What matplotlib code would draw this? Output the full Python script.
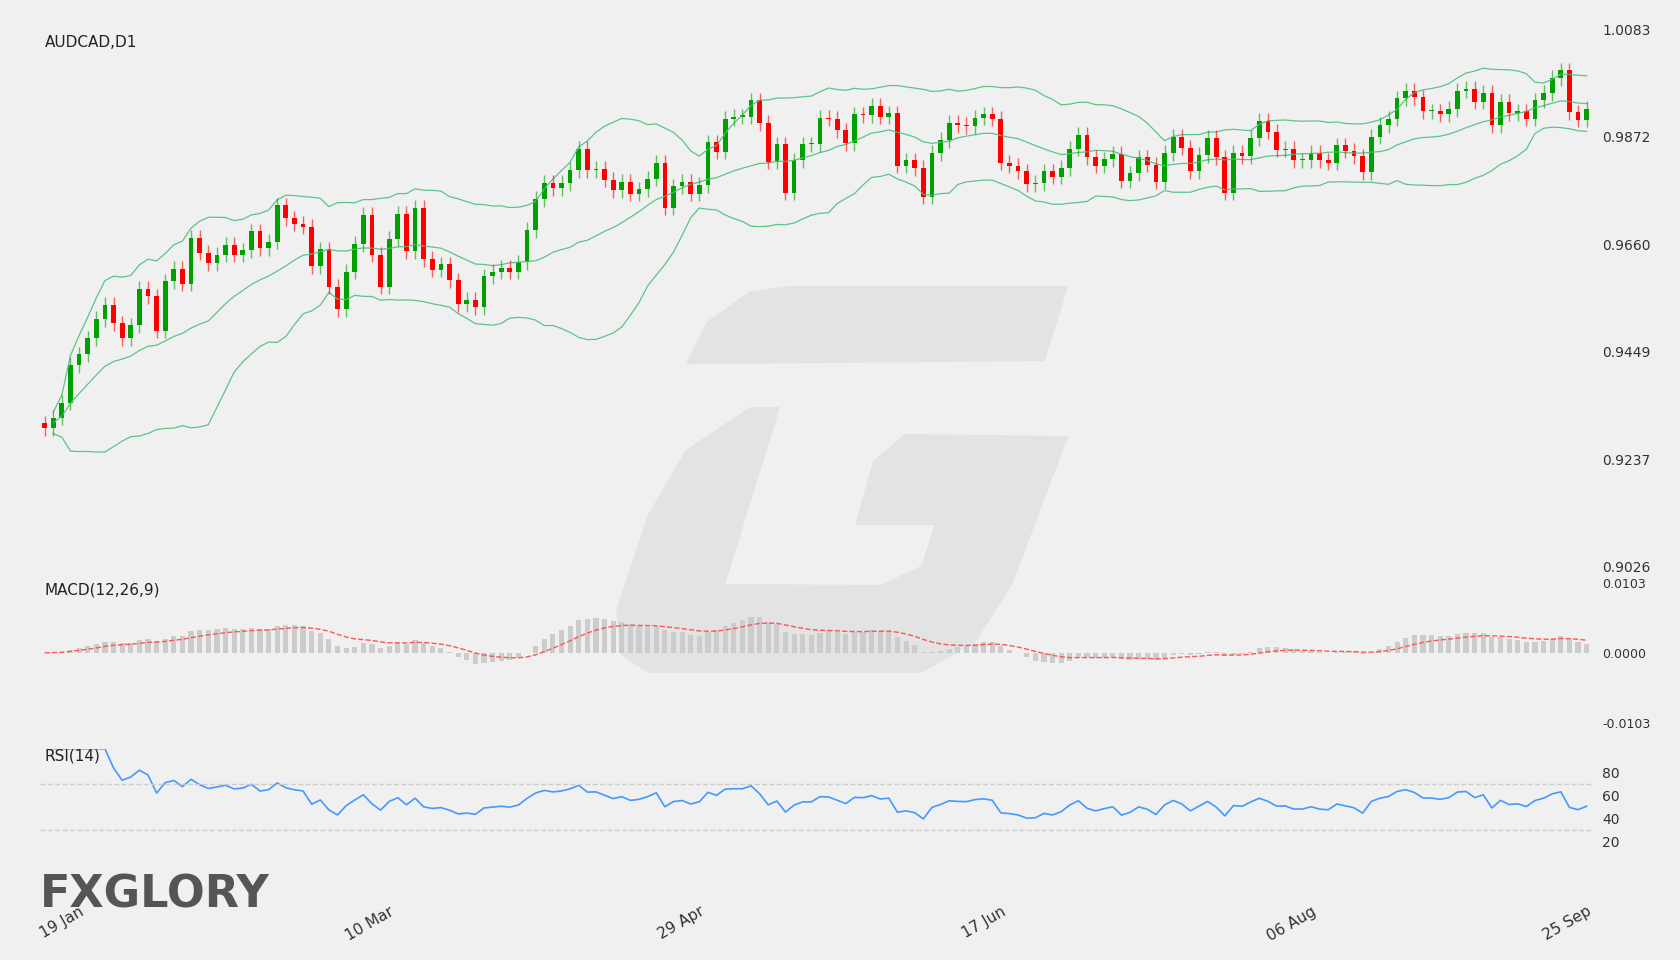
import matplotlib
matplotlib.use("Agg")
import matplotlib.pyplot as plt
from matplotlib.patches import Polygon
import numpy as np
import pandas as pd

close_px = [400,
            390, 376, 341, 331, 316, 298, 285, 302, 316, 304, 270, 277, 309, 263, 251, 265, 222, 236,
            246, 238, 229, 238, 234, 216, 232, 226, 192, 204, 209, 212, 249, 233, 268, 289, 254, 228,
            201, 238, 268, 223, 200, 235, 194, 242, 252, 247, 262, 284, 280, 287, 258, 254, 250, 254,
            245, 215,
            186, 171, 176, 171, 159, 139, 159, 158, 168, 178, 170, 181, 177, 167, 152, 194, 174, 170,
            181, 173, 133, 142, 111, 109, 109, 94, 115, 151, 135, 180, 150, 135, 135, 110, 111, 122,
            134, 107, 108, 99, 109, 106, 155, 150, 157, 184, 143, 131, 115, 117, 118, 110, 107, 111,
            152, 155, 160, 172, 171, 160, 165, 157, 139, 126, 147, 155, 149, 144, 169, 162, 147, 154,
            170, 143, 128, 138, 160, 145, 129, 147, 180, 143, 146, 129, 113, 123, 140, 139, 150, 150,
            143, 150, 152, 136, 141, 146, 161, 128, 117, 111, 92, 85, 91, 104, 104, 107, 102, 85, 83,
            95, 87,
            117, 95, 106, 104, 111, 94, 87, 73, 66, 105, 112, 102]
date_labels = ["19 Jan", "10 Mar", "29 Apr", "17 Jun", "06 Aug", "25 Sep"]
date_idx = [4, 40, 76, 111, 147, 179]
price_ticks = [0.9026, 0.9237, 0.9449, 0.9660, 0.9872, 1.0083]

close = 1.0083 - (np.array(close_px) - 28) / 501 * 0.1057
opn = np.r_[close[0] + 0.001, close[:-1]]
n = len(close)
x = np.arange(n)
s = pd.Series(close)

mid = s.rolling(20, min_periods=2).mean()
sd = s.rolling(20, min_periods=2).std(ddof=0)
up, lo = mid + 2 * sd, mid - 2 * sd
macd = s.ewm(span=12).mean() - s.ewm(span=26).mean()
signal = macd.ewm(span=9).mean()
d = s.diff()
gain = d.clip(lower=0).ewm(alpha=1/14).mean()
loss = (-d.clip(upper=0)).ewm(alpha=1/14).mean()
rsi = 100 - 100 / (1 + gain / loss)

bg = "#f0f0f0"
fig = plt.figure(figsize=(16.8, 9.6), dpi=100, facecolor=bg)

# faint watermark logo behind the panels
def fpoly(pts):
    return Polygon([(px / 1568, 1 - py / 896) for px, py in pts], closed=True,
                   transform=fig.transFigure, facecolor="#e3e3e3", edgecolor="none", zorder=-5)
fig.patches.append(fpoly([(640, 340), (660, 300), (700, 272), (735, 267), (997, 267), (975, 337)]))
fig.patches.append(fpoly([(728, 380), (700, 380), (640, 420), (605, 480), (575, 570), (580, 612),
                          (605, 628), (860, 628), (910, 600), (945, 545), (997, 407), (845, 405),
                          (815, 430), (798, 490), (872, 490), (860, 528), (822, 546), (677, 545)]))

L, W = 0.024, 0.923
ax = fig.add_axes([L, 0.410, W, 0.559], facecolor="none")
ax2 = fig.add_axes([L, 0.247, W, 0.146], facecolor="none", sharex=ax)
ax3 = fig.add_axes([L, 0.099, W, 0.121], facecolor="none", sharex=ax)

band = "#5cc488"
ax.plot(x, up, color=band, lw=0.9)
ax.plot(x, mid, color=band, lw=0.9)
ax.plot(x, lo, color=band, lw=0.9)
for i in range(n):
    c = "#00a000" if close[i] >= opn[i] else "#ff0000"
    hi = max(close[i], opn[i]) + 0.0015
    lw_ = min(close[i], opn[i]) - 0.0015
    ax.vlines(i, lw_, hi, color=c, lw=1, alpha=0.6)
    ax.bar(i, abs(close[i] - opn[i]) or 0.0003, bottom=min(close[i], opn[i]), width=0.55, color=c)
ax.set_ylim(0.9026, 1.0083)
ax.set_yticks(price_ticks)
ax.set_yticklabels([f"{t:.4f}" for t in price_ticks])
ax.text(0.003, 0.99, "AUDCAD,D1", transform=ax.transAxes, fontsize=11, va="top", color="#222")

ax2.bar(x, macd, width=0.6, color="#cccccc")
ax2.plot(x, signal, color="#ff5555", lw=1, ls="--")
ax2.set_ylim(-0.0103, 0.0103)
ax2.set_yticks([-0.0103, 0, 0.0103])
ax2.set_yticklabels(["-0.0103", "0.0000", "0.0103"])
ax2.text(0.003, 1.0, "MACD(12,26,9)", transform=ax2.transAxes, fontsize=11, va="top", color="#222")

ax3.plot(x, rsi, color="#4499ff", lw=1.2)
for lv in (30, 70):
    ax3.axhline(lv, color="#cccccc", lw=1, ls="--")
ax3.set_ylim(0, 100)
ax3.set_yticks([20, 40, 60, 80])
ax3.text(0.003, 1.0, "RSI(14)", transform=ax3.transAxes, fontsize=11, va="top", color="#222")

for a in (ax, ax2, ax3):
    for sp in a.spines.values():
        sp.set_visible(False)
    a.yaxis.tick_right()
    a.tick_params(axis="y", length=0, labelsize=10, labelcolor="#333", pad=8)
    a.tick_params(axis="x", length=0)
ax2.tick_params(axis="y", labelsize=9)
plt.setp(ax.get_xticklabels(), visible=False)
plt.setp(ax2.get_xticklabels(), visible=False)
ax.set_xlim(-0.5, n - 0.5)
ax3.set_xticks(date_idx)
ax3.set_xticklabels(date_labels, rotation=30, ha="right", rotation_mode="anchor",
                    fontsize=11, color="#333")
ax3.tick_params(axis="x", pad=28)

fig.text(0.024, 0.055, "FXGLORY", fontsize=32, fontweight="bold", color="#555555")
fig.savefig("out.png", dpi=100, facecolor=bg)
